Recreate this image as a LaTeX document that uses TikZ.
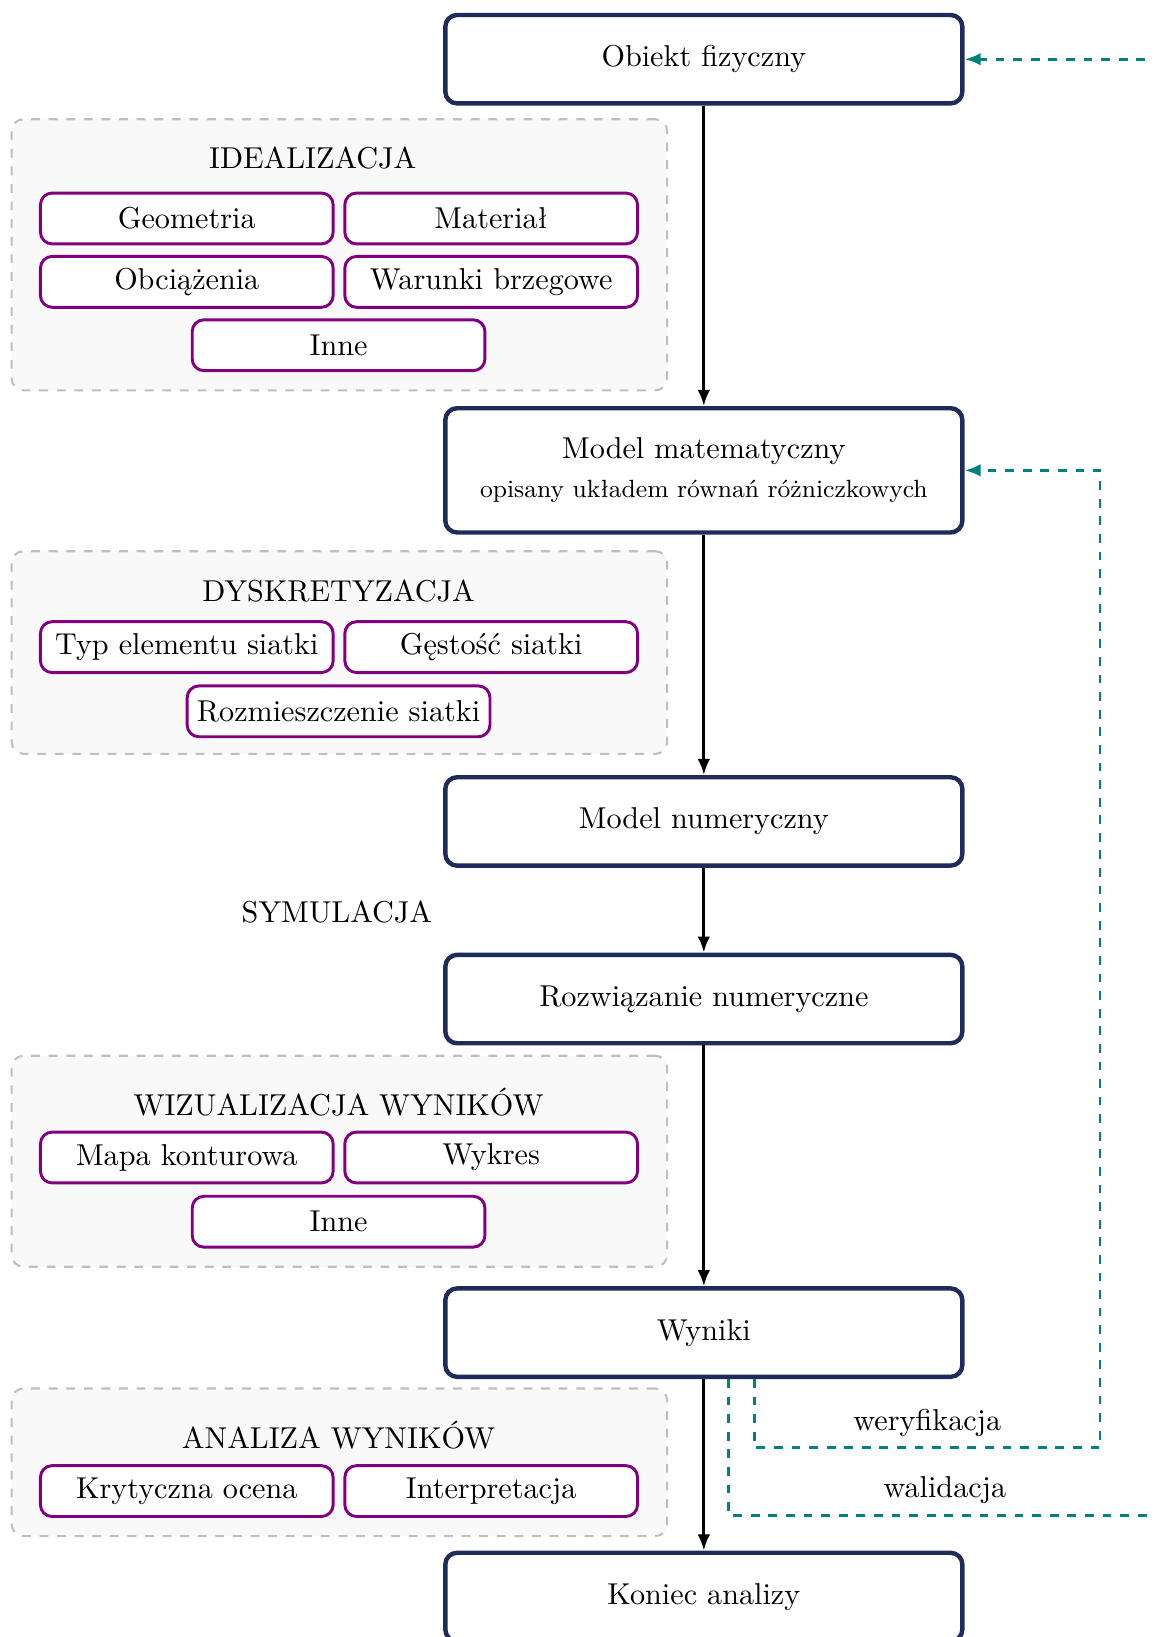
\documentclass[tikz,border=0pt]{standalone}
\usepackage{amsmath}
\usepackage{xcolor}
\usetikzlibrary{arrows.meta,positioning,calc,backgrounds}
\definecolor{navy}{RGB}{31,43,88}
\definecolor{subpurple}{RGB}{128,0,128}

\tikzset{
  mainbox/.style={draw=navy, line width=1.5pt, rounded corners=4pt, fill=white,
    minimum width=6.2cm, minimum height=1.06cm, align=center},
  subbox/.style={draw=subpurple, line width=1pt, rounded corners=4pt, fill=white,
    minimum width=3.51cm, minimum height=0.61cm},
  groupbox/.style={draw=gray!50, dashed, line width=0.7pt, rounded corners=4pt,
    fill=gray!5, minimum width=7.86cm},
  flow/.style={-{Latex[length=5.5pt,width=4.3pt]}, line width=1pt},
  feedback/.style={-{Latex[length=5.5pt,width=4.3pt]}, teal, dashed, line width=1pt},
  fblabel/.style={text=black, above},
}

\begin{document}
\begin{tikzpicture}[font=\fontsize{10.3}{12.4}\selectfont]
        \clip (0,0) rectangle (13.83,-19.63);

        \node[mainbox] (obiekt) at (8.44,-0.71) {Obiekt fizyczny};
        \node[mainbox, minimum height=1.49cm] (modelmat) at (8.44,-5.64)
            {Model matematyczny\\[1pt]{\fontsize{8.5}{10}\selectfont opisany układem równań różniczkowych}};
        \node[mainbox] (modelnum) at (8.44,-9.85) {Model numeryczny};
        \node[mainbox] (rozw) at (8.44,-11.98) {Rozwiązanie numeryczne};
        \node[mainbox] (wyniki) at (8.44,-15.98) {Wyniki};
        \node[mainbox] (koniec) at (8.44,-19.15) {Koniec analizy};

        \begin{scope}[on background layer]
        \node[groupbox, minimum height=3.25cm] (ideal) at (4.07,-3.055) {};
        \node[groupbox, minimum height=2.43cm] (dysk) at (4.07,-7.825) {};
        \node[groupbox, minimum height=2.53cm] (wiz) at (4.07,-13.925) {};
        \node[groupbox, minimum height=1.77cm] (anal) at (4.07,-17.535) {};
        \end{scope}

        \node (idealT) at (3.75,-1.89) {IDEALIZACJA};
        \node[subbox] (geom) at (2.24,-2.62) {Geometria};
        \node[subbox] (mat) at (5.89,-2.62) {Materiał};
        \node[subbox] (obc) at (2.24,-3.38) {Obciążenia};
        \node[subbox] (warunki) at (5.89,-3.38) {Warunki brzegowe};
        \node[subbox] (inneA) at (4.06,-4.14) {Inne};

        \node (dyskT) at (4.06,-7.09) {DYSKRETYZACJA};
        \node[subbox] (typ) at (2.24,-7.76) {Typ elementu siatki};
        \node[subbox] (gest) at (5.89,-7.76) {Gęstość siatki};
        \node[subbox] (rozm) at (4.06,-8.53) {Rozmieszczenie siatki};

        \node (symT) at (4.04,-10.94) {SYMULACJA};

        \node (wizT) at (4.06,-13.21) {WIZUALIZACJA WYNIKÓW};
        \node[subbox] (mapa) at (2.24,-13.88) {Mapa konturowa};
        \node[subbox] (wykres) at (5.89,-13.88) {Wykres};
        \node[subbox] (inneB) at (4.06,-14.65) {Inne};

        \node (analT) at (4.06,-17.21) {ANALIZA WYNIKÓW};
        \node[subbox] (kryt) at (2.24,-17.88) {Krytyczna ocena};
        \node[subbox] (interp) at (5.89,-17.88) {Interpretacja};

        \draw[flow] (obiekt) -- (modelmat);
        \draw[flow] (modelmat) -- (modelnum);
        \draw[flow] (modelnum) -- (rozw);
        \draw[flow] (rozw) -- (wyniki);
        \draw[flow] (wyniki) -- (koniec);

        \coordinate (werR) at (13.19,-17.36);
        \coordinate (walR) at (13.92,-18.17);
        \draw[feedback] ($(wyniki.south)+(0.61,0)$) |- node[pos=0.75, fblabel] {weryfikacja} (werR) |- (modelmat.east);
        \draw[feedback] ($(wyniki.south)+(0.3,0)$) |- node[pos=0.75, fblabel] {walidacja} (walR) |- (obiekt.east);
\end{tikzpicture}
\end{document}
